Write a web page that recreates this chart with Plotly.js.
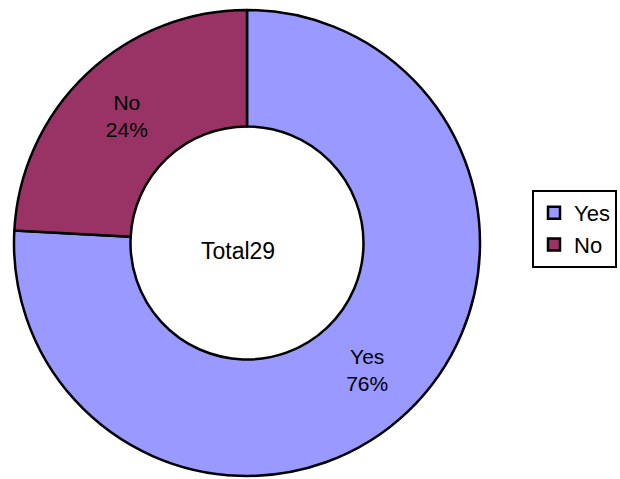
<!DOCTYPE html>
<html>
<head>
<meta charset="utf-8">
<script src="https://cdn.plot.ly/plotly-3.0.1.min.js"></script>
<style>html,body{margin:0;padding:0;background:#fff;}#chart{width:620px;height:479px;}</style>
</head>
<body>
<div id="chart"></div>
<script>
const labels = ["Yes", "No"];
const counts = [22, 7];
const colors = ["#9999FF", "#993366"];
const totalLabel = "Total";
const total = counts.reduce((a, b) => a + b, 0);

const FONT = "Liberation Sans, Arial, sans-serif";

const trace = {
  type: "pie",
  labels: labels,
  values: counts,
  hole: 0.5,
  sort: false,
  direction: "clockwise",
  rotation: 0,
  marker: { colors: colors, line: { color: "#000000", width: 2.5 } },
  texttemplate: "%{label}<br>%{percent:.0%}",
  textposition: "inside",
  insidetextorientation: "horizontal",
  textfont: { family: FONT, size: 21, color: "#000000" },
  hoverinfo: "label+value+percent",
  domain: { x: [14 / 620, 480 / 620], y: [3 / 479, 469 / 479] }
};

const layout = {
  width: 620,
  height: 479,
  margin: { l: 0, r: 0, t: 0, b: 0 },
  paper_bgcolor: "#ffffff",
  plot_bgcolor: "#ffffff",
  font: { family: FONT, size: 21, color: "#000000" },
  showlegend: true,
  legend: {
    x: 532 / 620, y: (479 - 190) / 479,
    xanchor: "left", yanchor: "top",
    bordercolor: "#000000", borderwidth: 2,
    bgcolor: "#ffffff",
    font: { family: FONT, size: 22, color: "#000000" },
    itemwidth: 30,
    tracegroupgap: 0
  },
  annotations: [{
    text: totalLabel + total,
    x: 238 / 620, y: (479 - 251) / 479,
    xref: "paper", yref: "paper",
    showarrow: false,
    font: { family: FONT, size: 23, color: "#000000" }
  }]
};

Plotly.newPlot("chart", [trace], layout, { displayModeBar: false, staticPlot: true });
</script>
</body>
</html>
